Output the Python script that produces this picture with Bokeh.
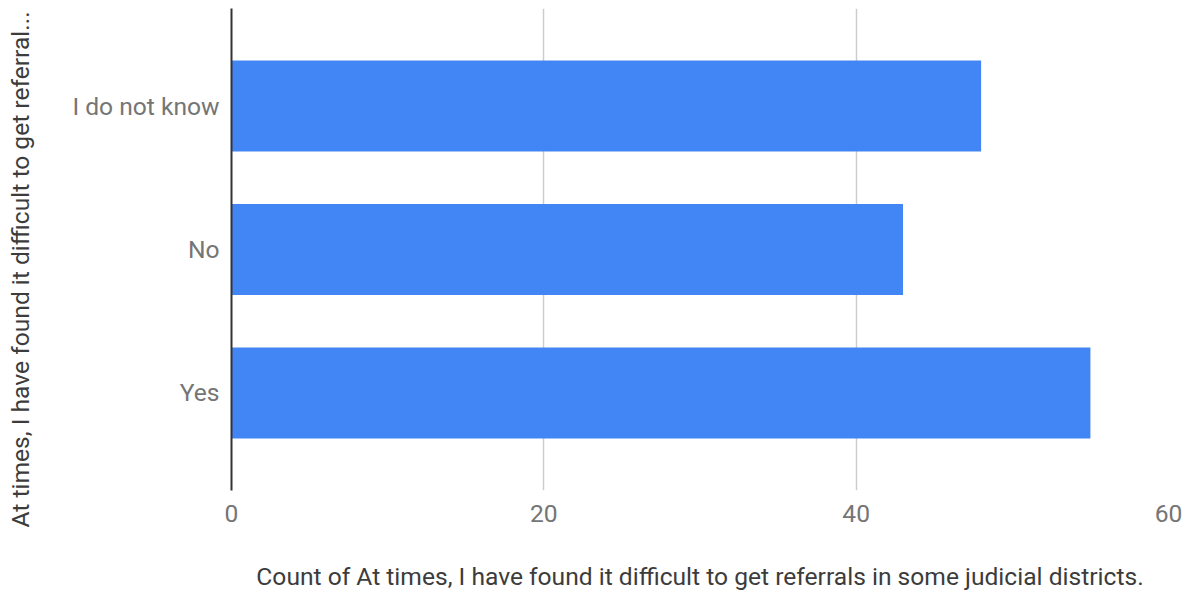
from bokeh.plotting import figure
from bokeh.models import FactorRange, Range1d, FixedTicker, Title
from bokeh.embed import file_html
from bokeh.resources import INLINE

categories = ["Yes", "No", "I do not know"]
counts = [55, 43, 48]
x_ticks = [0, 20, 40, 60]

y_title = "At times, I have found it difficult to get referral..."
x_title = "Count of At times, I have found it difficult to get referrals in some judicial districts."

FS = "24.6px"

p = figure(width=1184, height=593, output_backend="svg", toolbar_location=None,
           y_range=FactorRange(*categories, range_padding=0.18, range_padding_units="absolute"),
           x_range=Range1d(0, 60))
p.min_border_left = 231
p.min_border_right = 16
p.min_border_top = 8
p.min_border_bottom = 10
p.outline_line_color = None

p.hbar(y=categories, right=counts, height=0.634, left=0, color="#4285F4", line_color=None)

p.xaxis.ticker = FixedTicker(ticks=x_ticks)
p.xaxis.axis_line_color = None
p.xaxis.major_tick_line_color = None
p.xaxis.minor_tick_line_color = None
p.xaxis.major_label_text_font = "Roboto"
p.xaxis.major_label_text_font_size = FS
p.xaxis.major_label_text_color = "#757575"
p.xaxis.major_label_standoff = 8
p.xaxis.axis_label = x_title
p.xaxis.axis_label_text_font = "Roboto"
p.xaxis.axis_label_text_font_style = "normal"
p.xaxis.axis_label_text_font_size = FS
p.xaxis.axis_label_text_color = "#3c3c3c"
p.xaxis.axis_label_standoff = 37

p.yaxis.axis_line_color = "#333333"
p.yaxis.axis_line_width = 2
p.yaxis.major_tick_line_color = None
p.yaxis.minor_tick_line_color = None
p.yaxis.major_label_text_font = "Roboto"
p.yaxis.major_label_text_font_size = FS
p.yaxis.major_label_text_color = "#757575"
p.yaxis.major_label_standoff = 6
# invisible spacer label widening the axis panel so the title sits further left
p.yaxis.axis_label = "."
p.yaxis.axis_label_text_font_size = "1px"
p.yaxis.axis_label_text_alpha = 0
p.yaxis.axis_label_standoff = 29

# y-axis title as a left-side title, anchored at the bottom and shifted below the frame
ytitle = Title(text=y_title, align="left", offset=-37, standoff=4,
               text_font="Roboto", text_font_size=FS, text_font_style="normal",
               text_color="#3c3c3c")
p.add_layout(ytitle, "left")

p.ygrid.grid_line_color = None
p.xgrid.ticker = FixedTicker(ticks=x_ticks)
p.xgrid.grid_line_color = "#cccccc"
p.xgrid.grid_line_width = 1.5

open("out.html", "w").write(file_html(p, INLINE))
